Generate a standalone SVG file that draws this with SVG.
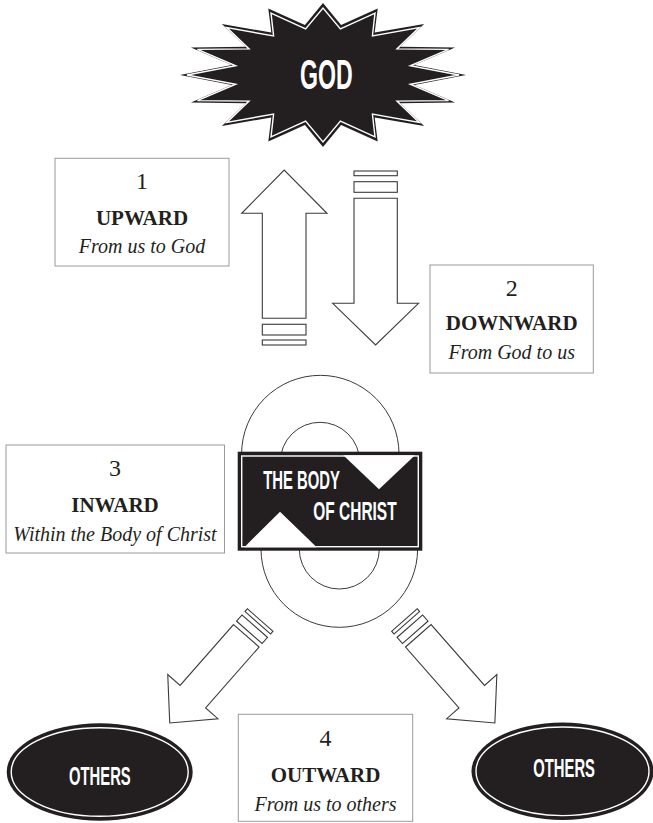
<svg xmlns="http://www.w3.org/2000/svg" width="653" height="823" viewBox="0 0 653 823">
<style>
.box{fill:#fff;stroke:#9a9a9a;stroke-width:1}
.num{font-family:"Liberation Serif",serif;font-size:24px;fill:#231f20;text-anchor:middle}
.ttl{font-family:"Liberation Serif",serif;font-size:21px;font-weight:bold;fill:#231f20;text-anchor:middle}
.sub{font-family:"Liberation Serif",serif;font-size:20px;font-style:italic;fill:#231f20;text-anchor:middle}
.cond{font-family:"Liberation Sans",sans-serif;font-weight:bold;fill:#fff}
.blk{fill:#231f20}
.wline{fill:none;stroke:#fff;stroke-width:1.4}
.arr{fill:#fff;stroke:#3a3a3a;stroke-width:1.1;stroke-linejoin:miter}
.arc{fill:none;stroke:#3a3a3a;stroke-width:1}
</style>
<rect width="653" height="823" fill="#fff"/>
<g id="connectors">
  <g id="arrow-up">
    <polygon class="arr" points="262.3,318.3 262.3,213.3 241.7,213.3 284.2,170 327,213.3 306,213.3 306,318.3"/>
    <rect class="arr" x="262.3" y="324.3" width="43.7" height="10.7"/>
    <rect class="arr" x="262.3" y="340" width="43.7" height="5"/>
  </g>
  <g id="arrow-down">
    <polygon class="arr" points="354,198.3 397.3,198.3 397.3,303.3 418.5,303.3 375.6,345 332.7,303.3 354,303.3"/>
    <rect class="arr" x="354" y="181.7" width="43.3" height="10.6"/>
    <rect class="arr" x="354" y="171" width="43.3" height="4.7"/>
  </g>
  <g id="loop">
    <path class="arc" d="M241.6,454 A78.7,78.7 0 0 1 399,454"/>
    <path class="arc" d="M280.3,462 A39.7,39.7 0 0 1 359.7,462"/>
    <path class="arc" d="M261,549 A78.3,78.3 0 0 0 417.6,549"/>
    <path class="arc" d="M299.3,549 A40,40 0 0 0 379.3,549"/>
  </g>
  <g id="arrow-left" transform="translate(246.3,635.8) rotate(41.3)">
    <polygon class="arr" points="-17,0 17,0 17,81 33.4,81 0,116 -33.4,81 -17,81"/>
    <rect class="arr" x="-17" y="-12.8" width="34" height="8.2"/>
    <rect class="arr" x="-17" y="-21" width="34" height="3.6"/>
  </g>
  <g id="arrow-right" transform="translate(418.3,635.8) rotate(-41.3)">
    <polygon class="arr" points="-17,0 17,0 17,81 33.4,81 0,116 -33.4,81 -17,81"/>
    <rect class="arr" x="-17" y="-12.8" width="34" height="8.2"/>
    <rect class="arr" x="-17" y="-21" width="34" height="3.6"/>
  </g>
</g>
<g id="god">
  <polygon class="blk" points="466,75 414.2,85 455.1,102.6 400.3,103.3 424.1,125.9 374.7,117.4 377.7,141.5 341.1,125 323,147 304.9,125 268.3,141.5 271.3,117.4 221.9,125.9 245.7,103.3 190.9,102.6 231.8,85 180,75 231.8,65 190.9,47.4 245.7,46.7 221.9,24.1 271.3,32.6 268.3,8.5 304.9,25 323,3 341.1,25 377.7,8.5 374.7,32.6 424.1,24.1 400.3,46.7 455.1,47.4 414.2,65"/>
  <polygon class="wline" points="459,75 410.3,84.2 448.6,100.6 397,101.1 419.2,122.4 372.4,114.1 375,136.9 340.4,121.1 323,142 305.6,121.1 271,136.9 273.6,114.1 226.8,122.4 249,101.1 197.4,100.6 235.7,84.2 187,75 235.7,65.8 197.4,49.4 249,48.9 226.8,27.6 273.6,35.9 271,13.1 305.6,28.9 323,8 340.4,28.9 375,13.1 372.4,35.9 419.2,27.6 397,48.9 448.6,49.4 410.3,65.8"/>
  <text class="cond" x="300" y="89.3" font-size="42" textLength="52.7" lengthAdjust="spacingAndGlyphs">GOD</text>
</g>
<g id="box-upward">
  <rect class="box" x="55" y="158.3" width="174" height="107.7"/>
  <text class="num" x="142" y="189">1</text>
  <text class="ttl" x="142" y="225">UPWARD</text>
  <text class="sub" x="142" y="253">From us to God</text>
</g>
<g id="box-downward">
  <rect class="box" x="430" y="265" width="163.3" height="108"/>
  <text class="num" x="511.7" y="296">2</text>
  <text class="ttl" x="511.7" y="330">DOWNWARD</text>
  <text class="sub" x="511.7" y="359">From God to us</text>
</g>
<g id="box-inward">
  <rect class="box" x="6" y="445" width="218.5" height="108"/>
  <text class="num" x="115" y="476">3</text>
  <text class="ttl" x="115" y="512">INWARD</text>
  <text class="sub" x="115" y="541">Within the Body of Christ</text>
</g>
<g id="body-of-christ">
  <rect class="blk" x="237.7" y="451.7" width="184.6" height="99"/>
  <rect class="wline" x="241.7" y="456" width="176.6" height="90.7"/>
  <polygon fill="#fff" points="343.3,455.2 379,489.3 415,455.2"/>
  <polygon fill="#fff" points="244.3,547.2 280,511.7 316.7,547.2"/>
  <text class="cond" x="263.3" y="489.3" font-size="25.6" textLength="76.7" lengthAdjust="spacingAndGlyphs">THE BODY</text>
  <text class="cond" x="313.3" y="520" font-size="25.6" textLength="83.3" lengthAdjust="spacingAndGlyphs">OF CHRIST</text>
</g>
<g id="box-outward">
  <rect class="box" x="238.3" y="714.3" width="174.4" height="107"/>
  <text class="num" x="325.5" y="746">4</text>
  <text class="ttl" x="325.5" y="782">OUTWARD</text>
  <text class="sub" x="325.5" y="811">From us to others</text>
</g>
<g id="others-left">
  <ellipse class="blk" cx="99.7" cy="772" rx="93" ry="48.7"/>
  <ellipse class="wline" cx="99.7" cy="772" rx="88.5" ry="44.3"/>
  <text class="cond" x="69" y="785" font-size="26.6" textLength="61.7" lengthAdjust="spacingAndGlyphs">OTHERS</text>
</g>
<g id="others-right">
  <ellipse class="blk" cx="562.5" cy="771.3" rx="91" ry="48.7"/>
  <ellipse class="wline" cx="562.5" cy="771.3" rx="86.5" ry="44.3"/>
  <text class="cond" x="533.3" y="777.3" font-size="25" textLength="61.7" lengthAdjust="spacingAndGlyphs">OTHERS</text>
</g>
</svg>
